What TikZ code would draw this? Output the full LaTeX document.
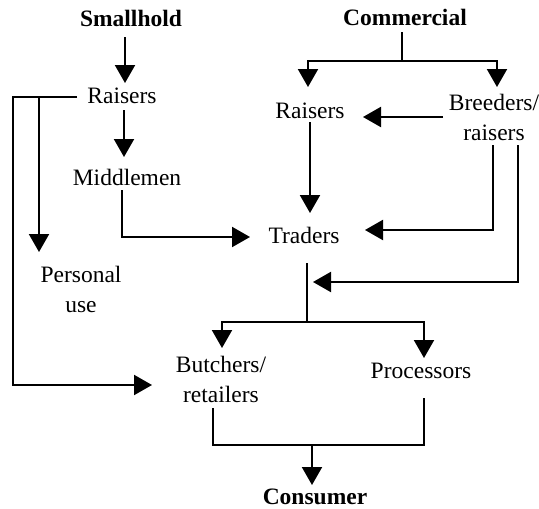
\documentclass[tikz,border=0pt]{standalone}
\usepackage{fontspec}
\setmainfont{Liberation Serif}
\usetikzlibrary{arrows.meta,calc}
\tikzset{
  lbl/.style={anchor=base,inner sep=0pt,outer sep=0pt,font=\fontsize{23.5}{30}\selectfont},
  ttl/.style={lbl,font=\fontsize{23.5}{30}\selectfont\bfseries},
  ln/.style={line width=2pt},
  arr/.style={ln,-{Triangle[length=18pt,width=20pt]}}
}
\newcommand{\two}[2]{\begin{tabular}[t]{@{}c@{}}#1\\#2\end{tabular}}
\begin{document}
\begin{tikzpicture}[x=1pt,y=-1pt]
\useasboundingbox (0,0) rectangle (539,509);
% nodes
\node[ttl] (sh) at (131,26) {Smallhold};
\node[ttl] (co) at (405,25) {Commercial};
\node[lbl] (rl) at (122,103) {Raisers};
\node[lbl] (mm) at (127,185) {Middlemen};
\node[lbl] (pu) at (81,282) {\two{Personal}{use}};
\node[lbl] (rr) at (310,118) {Raisers};
\node[lbl] (br) at (494,110) {\two{Breeders/}{raisers}};
\node[lbl] (tr) at (304,243) {Traders};
\node[lbl] (bu) at (221,372) {\two{Butchers/}{retailers}};
\node[lbl] (pr) at (421,378) {Processors};
\node[ttl] (cn) at (315,504) {Consumer};
% smallhold chain
\draw[arr] ($(sh.base)+(-6,11)$) -- ($(rl.base)+(3,-20)$);
\draw[arr] ($(rl.base)+(2,7)$) -- ($(mm.base)+(-3,-28)$);
\draw[arr] ($(rl.base)+(-45,-6)$) -- ($(rl.base)+(-109,-6)$) |- ($(bu.base)+(-69,13)$);
\draw[arr] ($(rl.base)+(-83,-6)$) -- ($(pu.base)+(-42,-30)$);
\draw[arr] ($(mm.base)+(-5,5)$) |- ($(tr.base)+(-54,-6)$);
% commercial chain
\draw[ln] ($(co.base)+(-3,7)$) -- ($(co.base)+(-3,36)$) coordinate (cj);
\draw[arr] (cj) -| ($(rr.base)+(-2,-31)$);
\draw[arr] (cj) -| ($(br.base)+(3,-23)$);
\draw[arr] ($(br.base)+(-51,7)$) -- ($(rr.base)+(53,-1)$);
\draw[arr] ($(rr.base)+(0,4)$) -- ($(tr.base)+(6,-30)$);
\draw[arr] ($(br.base)+(-1,35)$) |- ($(tr.base)+(61,-13)$);
\draw[arr] ($(br.base)+(24,35)$) |- ($(tr.base)+(9,39)$);
% traders to butchers / processors
\draw[ln] ($(tr.base)+(3,20)$) -- ($(tr.base)+(3,79)$) coordinate (tj);
\draw[arr] (tj) -| ($(bu.base)+(1,-24)$);
\draw[arr] (tj) -| ($(pr.base)+(3,-20)$);
% to consumer
\draw[ln] ($(bu.base)+(-8,36)$) |- ($(pr.base)+(3,67)$) -- ($(pr.base)+(3,20)$);
\draw[arr] ($(cn.base)+(-3,-59)$) -- ($(cn.base)+(-3,-19)$);
\end{tikzpicture}
\end{document}
